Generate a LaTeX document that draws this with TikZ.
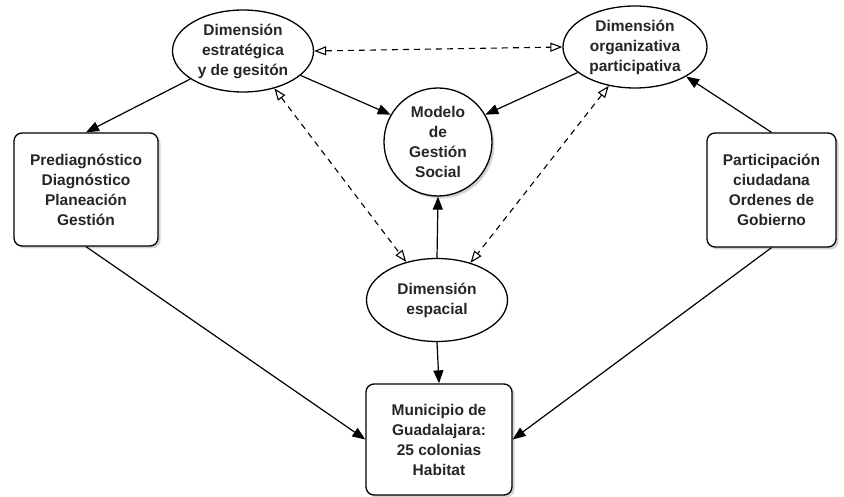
\documentclass[tikz,border=0pt]{standalone}
\usepackage{fontspec}
\setmainfont{Liberation Sans}
\usetikzlibrary{shapes,arrows.meta,shadows,positioning}

\begin{document}
\begin{tikzpicture}[x=1pt, y=-1pt, font=\bfseries\fontsize{15.5}{20}\selectfont]
	\tikzstyle{Dim} 	= [ellipse, draw, line width=1.3pt, fill=white, text=black!85, minimum width=141pt, minimum height=82pt, inner sep=0pt, align=center]
	\tikzstyle{Box} 	= [rectangle, rounded corners=8pt, draw, line width=1.3pt, fill=white, text=black!85, align=center, drop shadow={shadow xshift=2.5pt, shadow yshift=-2.5pt, opacity=0.35}]
	\tikzstyle{Core} 	= [circle, draw, line width=1.3pt, fill=white, text=black!85, minimum size=108pt, inner sep=0pt, align=center, drop shadow={shadow xshift=2.5pt, shadow yshift=-2.5pt, opacity=0.35}]
	\tikzstyle{Flow} 	= [-{Triangle[length=13pt, width=10pt]}, line width=1.2pt]
	\tikzstyle{Link} 	= [{Triangle[open, length=12pt, width=9pt]}-{Triangle[open, length=12pt, width=9pt]}, dash pattern=on 6pt off 5pt, line width=1.1pt]

	\useasboundingbox (0, 0) rectangle (844, 497);

	\node (estr) at (243, 51) [Dim] {Dimensión\\estratégica\\y de gesitón};
	\node (orga) at (635, 47) [Dim, minimum width=144pt] {Dimensión\\organizativa\\participativa};
	\node (model) at (438, 142) [Core] {Modelo\\de\\Gestión\\Social};
	\node (diag) at (86, 189.5) [Box, minimum width=144pt, minimum height=113pt] {Prediagnóstico\\Diagnóstico\\Planeación\\Gestión};
	\node (part) at (771.5, 190) [Box, minimum width=129pt, minimum height=114pt] {Participación\\ciudadana\\Ordenes de\\Gobierno};
	\node (espa) at (437, 300) [Dim, minimum height=83pt] {Dimensión\\espacial};
	\node (muni) at (439, 439.5) [Box, minimum width=146pt, minimum height=111pt] {Municipio de\\Guadalajara:\\25 colonias\\Habitat};

	\draw (estr.208) to (diag.north) [Flow];
	\draw (estr.337) to (model.150) [Flow];
	\draw (orga.204) to (model.30) [Flow];
	\draw (part.north) to (orga.330) [Flow];
	\draw (espa.north) to (model.south) [Flow];
	\draw (espa.south) to (muni.north) [Flow];
	\draw (diag.south) to (muni.west) [Flow];
	\draw (part.south) to (muni.east) [Flow];

	\draw (estr.east) to (orga.west) [Link];
	\draw (estr.310) to (espa.129) [Link];
	\draw (orga.236) to (espa.48) [Link];
\end{tikzpicture}
\end{document}
